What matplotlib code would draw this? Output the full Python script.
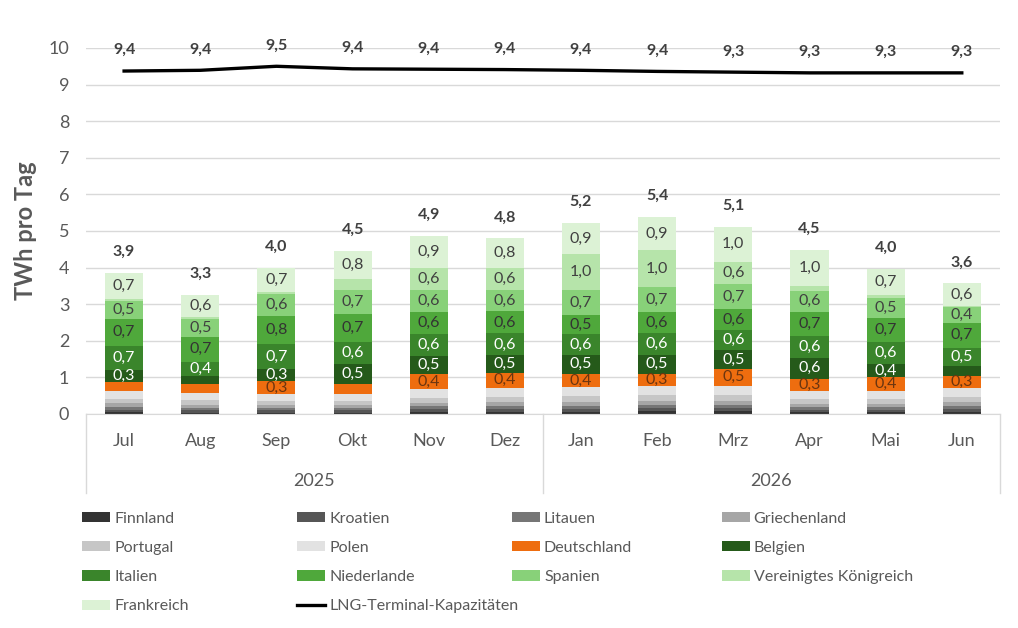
import matplotlib
matplotlib.use("Agg")
import matplotlib.pyplot as plt
import matplotlib.transforms as mtransforms
from matplotlib.lines import Line2D
import numpy as np

plt.rcParams['font.family'] = ['Lato', 'DejaVu Sans']

months = ['Jul', 'Aug', 'Sep', 'Okt', 'Nov', 'Dez', 'Jan', 'Feb', 'Mrz', 'Apr', 'Mai', 'Jun']
years = ['2025', '2026']

# TWh pro Tag, Stapel von unten nach oben
finnland = [0.05, 0.04, 0.04, 0.04, 0.06, 0.06, 0.06, 0.07, 0.07, 0.05, 0.05, 0.06]
kroatien = [0.07, 0.06, 0.06, 0.06, 0.07, 0.08, 0.08, 0.08, 0.08, 0.07, 0.07, 0.08]
litauen = [0.07, 0.06, 0.06, 0.06, 0.08, 0.08, 0.08, 0.09, 0.09, 0.07, 0.07, 0.08]
griechenland = [0.10, 0.09, 0.08, 0.08, 0.10, 0.10, 0.11, 0.11, 0.11, 0.09, 0.09, 0.10]
portugal = [0.13, 0.12, 0.11, 0.11, 0.14, 0.15, 0.15, 0.16, 0.16, 0.13, 0.13, 0.14]
polen = [0.22, 0.21, 0.20, 0.20, 0.23, 0.25, 0.25, 0.26, 0.26, 0.22, 0.22, 0.24]
deutschland = [0.23, 0.25, 0.34, 0.28, 0.40, 0.40, 0.37, 0.33, 0.46, 0.33, 0.37, 0.34]
belgien = [0.34, 0.20, 0.35, 0.54, 0.50, 0.48, 0.52, 0.52, 0.51, 0.58, 0.37, 0.27]
italien = [0.66, 0.40, 0.66, 0.61, 0.60, 0.60, 0.56, 0.59, 0.56, 0.59, 0.61, 0.50]
niederlande = [0.73, 0.68, 0.77, 0.74, 0.60, 0.60, 0.52, 0.57, 0.56, 0.66, 0.65, 0.68]
spanien = [0.48, 0.48, 0.62, 0.68, 0.60, 0.60, 0.68, 0.68, 0.70, 0.58, 0.53, 0.42]
vk = [0.05, 0.05, 0.04, 0.28, 0.60, 0.60, 0.98, 1.02, 0.60, 0.12, 0.08, 0.04]
frankreich = [0.73, 0.62, 0.66, 0.78, 0.88, 0.80, 0.87, 0.90, 0.96, 1.00, 0.73, 0.62]

lng = [9.37, 9.39, 9.50, 9.43, 9.42, 9.41, 9.39, 9.36, 9.34, 9.32, 9.32, 9.32]

series = [
    ('Finnland', finnland, '#333333', 'white'),
    ('Kroatien', kroatien, '#565656', 'white'),
    ('Litauen', litauen, '#767676', 'white'),
    ('Griechenland', griechenland, '#a6a6a6', '#404040'),
    ('Portugal', portugal, '#c6c6c6', '#404040'),
    ('Polen', polen, '#e2e2e2', '#404040'),
    ('Deutschland', deutschland, '#ee6d0f', '#6b3510'),
    ('Belgien', belgien, '#255a1a', 'white'),
    ('Italien', italien, '#3a852b', 'white'),
    ('Niederlande', niederlande, '#4fa83b', '#333333'),
    ('Spanien', spanien, '#88d179', '#404040'),
    ('Vereinigtes Königreich', vk, '#b6e4aa', '#404040'),
    ('Frankreich', frankreich, '#dcf2d5', '#404040'),
]

def fmt(v):
    return f"{v:.1f}".replace('.', ',')

fig = plt.figure(figsize=(10.18, 6.28), dpi=100)
ax = fig.add_axes([0.0845, 0.3408, 0.8977, 0.5828])

x = np.arange(len(months))
bottom = np.zeros(len(months))
handles = []
labels = []
for name, vals, col, tcol in series:
    vals = np.array(vals)
    b = ax.bar(x, vals, 0.5, bottom=bottom, color=col, zorder=2)
    handles.append(b)
    labels.append(name)
    for i, v in enumerate(vals):
        if v >= 0.3:
            ax.text(x[i], bottom[i] + v / 2, fmt(v), ha='center', va='center',
                    fontsize=11.5, color=tcol, zorder=4)
    bottom = bottom + vals

# Summen
for i, t in enumerate(bottom):
    ax.annotate(fmt(t), (x[i], t), xytext=(0, 15), textcoords='offset points',
                ha='center', va='center', fontsize=11.5, fontweight='bold', color='#404040')

ln, = ax.plot(x, lng, color='black', lw=2.4, zorder=3)
handles.append(ln)
labels.append('LNG-Terminal-Kapazitäten')
for i, v in enumerate(lng):
    ax.annotate(fmt(v), (x[i], v), xytext=(0, 15), textcoords='offset points',
                ha='center', va='center', fontsize=11.5, fontweight='bold', color='#404040')

ax.set_xlim(-0.5, len(months) - 0.5)
ax.set_ylim(0, 10)
ax.set_yticks(range(0, 11))
ax.tick_params(axis='y', length=0, labelsize=13, labelcolor='#595959', pad=12)
ax.yaxis.grid(True, color='#d9d9d9', lw=1)
ax.set_axisbelow(True)
for s in ['top', 'right', 'left']:
    ax.spines[s].set_visible(False)
ax.spines['bottom'].set_color('#d9d9d9')
ax.set_ylabel('TWh pro Tag', fontsize=17, fontweight='bold', color='#595959', labelpad=8)

ax.set_xticks(x)
ax.set_xticklabels(months, fontsize=13, color='#595959')
ax.tick_params(axis='x', length=0, pad=14)

# zweite Kategorieebene (Jahre)
trans = mtransforms.blended_transform_factory(ax.transData, ax.transAxes)
for xs in [-0.5, 5.5, 11.5]:
    ax.add_line(Line2D([xs, xs], [0, -0.216], transform=trans, color='#d9d9d9',
                       lw=1, clip_on=False))
ax.text(2.5, -0.183, years[0], transform=trans, ha='center', va='center',
        fontsize=13, color='#595959')
ax.text(8.5, -0.183, years[1], transform=trans, ha='center', va='center',
        fontsize=13, color='#595959')

# Legende: zeilenweise, 4 Spalten
col_x = [0.081, 0.292, 0.503, 0.709]
for c in range(4):
    idx = list(range(c, len(handles), 4))
    fig.legend([handles[i] for i in idx], [labels[i] for i in idx],
               loc='upper left', bbox_to_anchor=(col_x[c], 0.185),
               frameon=False, fontsize=11.5, labelcolor='#595959',
               handlelength=1.75, handleheight=0.6, handletextpad=0.25,
               labelspacing=0.95, borderaxespad=0, borderpad=0)

fig.savefig('out.png', dpi=100, facecolor='white')
